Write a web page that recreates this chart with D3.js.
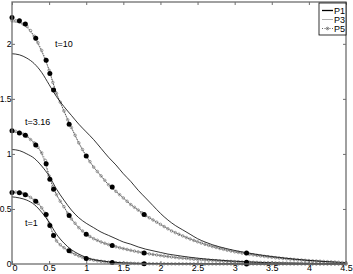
<!DOCTYPE html>
<html>
<head>
<meta charset="utf-8">
<script src="https://cdn.jsdelivr.net/npm/d3@7"></script>
<style>
  body { margin: 0; background: #fff; }
  text { font-family: "Liberation Sans", Arial, sans-serif; font-size: 9px; fill: #000; }
</style>
</head>
<body>
<svg id="drawing_region"></svg>
<script>
// coarse x grid (P1, P3 curves)
const xs = [0,0.1,0.2,0.3,0.4,0.5,0.6,0.7,0.8,0.9,1.0,1.1,1.2,1.3,1.4,1.5,1.6,1.7,1.8,1.9,2.0,2.1,2.2,2.3,2.4,2.5,2.6,2.7,2.8,2.9,3.0,3.1,3.2,3.3,3.4,3.5,3.6,3.7,3.8,3.9,4.0,4.1,4.2,4.3,4.4,4.5];
// fine x grid (P5 curves, one marker per point)
const xs5 = [0,0.05,0.1,0.15,0.2,0.25,0.3,0.35,0.4,0.45,0.5,0.55,0.6,0.65,0.7,0.75,0.8,0.85,0.9,0.95,
  1.0,1.05,1.1,1.15,1.2,1.25,1.3,1.35,1.4,1.45,1.5,1.55,1.6,1.65,1.7,1.75,1.8,1.85,1.9,1.95,
  2.0,2.05,2.1,2.15,2.2,2.25,2.3,2.35,2.4,2.45,2.5,2.55,2.6,2.65,2.7,2.75,2.8,2.85,2.9,2.95,
  3.0,3.05,3.1,3.15,3.2,3.25,3.3,3.35,3.4,3.45,3.5,3.55,3.6,3.65,3.7,3.75,3.8,3.85,3.9,3.95,
  4.0,4.05,4.1,4.15,4.2,4.25,4.3,4.35,4.4,4.45,4.5];

// t = 10
const p1_t10 = [1.91,1.90,1.87,1.82,1.74,1.63,1.52,1.43,1.35,1.27,1.20,1.13,1.05,0.97,0.90,0.82,0.75,0.67,0.60,0.53,0.46,0.40,0.35,0.31,0.27,0.23,0.20,0.175,0.155,0.138,0.123,0.11,0.098,0.087,0.077,0.068,0.06,0.052,0.045,0.039,0.033,0.028,0.023,0.019,0.015,0.012];
const p3_t10 = [2.20,2.19,2.15,2.06,1.93,1.76,1.55,1.39,1.24,1.10,0.98,0.88,0.80,0.72,0.66,0.60,0.54,0.49,0.44,0.40,0.36,0.32,0.285,0.255,0.227,0.202,0.179,0.159,0.141,0.125,0.111,0.099,0.088,0.078,0.069,0.061,0.054,0.047,0.041,0.036,0.031,0.027,0.023,0.019,0.015,0.012];
const p5_t10 = [2.21,2.21,2.20,2.18,2.16,2.12,2.07,2.01,1.94,1.86,
  1.76,1.65,1.55,1.47,1.39,1.31,1.24,1.17,1.10,1.04,
  0.98,0.93,0.88,0.84,0.80,0.76,0.72,0.69,0.66,0.63,
  0.60,0.57,0.54,0.515,0.49,0.465,0.44,0.42,0.40,0.38,
  0.36,0.34,0.32,0.30,0.285,0.27,0.255,0.24,0.227,0.214,
  0.202,0.19,0.179,0.169,0.159,0.15,0.141,0.133,0.125,0.118,
  0.111,0.105,0.099,0.093,0.088,0.083,0.078,0.073,0.069,0.065,
  0.061,0.057,0.054,0.05,0.047,0.044,0.041,0.038,0.036,0.033,
  0.031,0.029,0.027,0.025,0.023,0.021,0.019,0.017,0.015,0.013,0.012];

// t = 3.16
const p1_t3 = [1.04,1.03,1.00,0.96,0.89,0.80,0.68,0.58,0.49,0.42,0.37,0.33,0.29,0.26,0.23,0.20,0.18,0.155,0.135,0.12,0.105,0.09,0.08,0.07,0.061,0.053,0.046,0.04,0.035,0.03,0.026,0.022,0.019,0.016,0.013,0.011,0.009,0.008,0.007,0.006,0.005,0.004,0.004,0.003,0.003,0.002];
const p3_t3 = [1.20,1.19,1.16,1.10,1.00,0.80,0.63,0.52,0.41,0.33,0.27,0.23,0.20,0.177,0.157,0.14,0.124,0.11,0.098,0.087,0.077,0.068,0.06,0.053,0.047,0.041,0.036,0.032,0.028,0.024,0.021,0.018,0.016,0.014,0.012,0.01,0.009,0.008,0.007,0.006,0.005,0.0045,0.004,0.0035,0.003,0.0025];
const p5_t3 = [1.21,1.205,1.195,1.18,1.16,1.13,1.10,1.06,1.01,0.94,
  0.80,0.70,0.63,0.57,0.52,0.46,0.41,0.37,0.33,0.30,
  0.27,0.25,0.23,0.215,0.20,0.188,0.177,0.167,0.157,0.148,
  0.14,0.132,0.124,0.117,0.11,0.104,0.098,0.092,0.087,0.082,
  0.077,0.072,0.068,0.064,0.06,0.056,0.053,0.05,0.047,0.044,
  0.041,0.039,0.036,0.034,0.032,0.03,0.028,0.026,0.024,0.023,
  0.021,0.02,0.018,0.017,0.016,0.015,0.014,0.013,0.012,0.011,
  0.01,0.0095,0.009,0.0085,0.008,0.0075,0.007,0.0065,0.006,0.0055,
  0.005,0.005,0.0045,0.004,0.004,0.0035,0.003,0.003,0.003,0.0025,0.0025];

// t = 1
const p1_t1 = [0.61,0.60,0.58,0.54,0.47,0.38,0.27,0.19,0.13,0.09,0.06,0.04,0.03,0.02,0.015,0.01,0.008,0.006,0.005,0.004,0.003,0.003,0.002,0.002,0.002,0.001,0.001,0.001,0.001,0.001,0.001,0,0,0,0,0,0,0,0,0,0,0,0,0,0,0];
const p3_t1 = [0.65,0.645,0.625,0.58,0.51,0.37,0.21,0.148,0.105,0.073,0.05,0.035,0.024,0.017,0.012,0.008,0.006,0.004,0.003,0.002,0.002,0.001,0.001,0.001,0.001,0,0,0,0,0,0,0,0,0,0,0,0,0,0,0,0,0,0,0,0,0];
const p5_t1 = [0.655,0.653,0.648,0.64,0.625,0.605,0.58,0.55,0.51,0.46,
  0.37,0.27,0.21,0.175,0.148,0.125,0.105,0.088,0.073,0.06,
  0.05,0.042,0.035,0.029,0.024,0.02,0.017,0.014,0.012,0.01,
  0.008,0.007,0.006,0.005,0.004,0.0035,0.003,0.0025,0.002,0.002,
  0.0015,0.0015,0.001,0.001,0.001,0.001,0.0008,0.0007,0.0006,0.0005,
  0,0,0,0,0,0,0,0,0,0,
  0,0,0,0,0,0,0,0,0,0,
  0,0,0,0,0,0,0,0,0,0,
  0,0,0,0,0,0,0,0,0,0,0];

// reference points (filled dots)
const dot_x = [0,0.1,0.18,0.32,0.46,0.51,0.56,0.77,1.0,1.35,1.78,3.16];
const dot_t10 = [2.24,2.21,2.18,2.05,1.85,1.73,1.58,1.27,0.98,0.70,0.45,0.10];
const dot_t3 = [1.21,1.19,1.17,1.08,0.91,0.77,0.68,0.44,0.27,0.167,0.10,0.017];
const dot_t1 = [0.65,0.648,0.63,0.57,0.45,0.35,0.26,0.12,0.05,0.014,0.003,0];

const curve_labels = ["t=10","t=3.16","t=1"];
const legend_names = ["P1","P3","P5"];
const xticks = [0,0.5,1,1.5,2,2.5,3,3.5,4,4.5];
const yticks = [0,0.5,1,1.5,2];

const config = {
  width: 353, height: 274,
  margin: {top: 2, right: 7, bottom: 10, left: 12}
};

const svg = d3.select('#drawing_region')
  .attr('width', config.width)
  .attr('height', config.height);

const inner_width = config.width - config.margin.left - config.margin.right;
const inner_height = config.height - config.margin.top - config.margin.bottom;

const xscale = d3.scaleLinear().domain([0, 4.5]).range([0, inner_width]);
const yscale = d3.scaleLinear().domain([0, 2.38]).range([inner_height, 0]);

const chart = svg.append('g')
  .attr('transform', `translate(${config.margin.left}, ${config.margin.top})`);

const lineOn = grid => d3.line()
  .x((d, i) => xscale(grid[i]))
  .y(d => yscale(d))
  .curve(d3.curveMonotoneX);

const groups = [
  {p1: p1_t10, p3: p3_t10, p5: p5_t10, dots: dot_t10},
  {p1: p1_t3, p3: p3_t3, p5: p5_t3, dots: dot_t3},
  {p1: p1_t1, p3: p3_t1, p5: p5_t1, dots: dot_t1}
];

groups.forEach(g => {
  chart.append('path').datum(g.p3)
    .attr('fill', 'none').attr('stroke', '#9a9a9a').attr('stroke-width', 0.8)
    .attr('d', lineOn(xs));
  chart.append('path').datum(g.p5)
    .attr('fill', 'none').attr('stroke', '#000').attr('stroke-width', 0.6)
    .attr('stroke-dasharray', '1,1.5')
    .attr('d', lineOn(xs5));
  chart.append('g').selectAll('circle')
    .data(g.p5)
    .join('circle')
    .attr('cx', (d, i) => xscale(xs5[i]))
    .attr('cy', d => yscale(d))
    .attr('r', 1.3)
    .attr('fill', 'none')
    .attr('stroke', '#7a7a7a')
    .attr('stroke-width', 0.7);
  chart.append('path').datum(g.p1)
    .attr('fill', 'none').attr('stroke', '#000').attr('stroke-width', 0.8)
    .attr('d', lineOn(xs));
  chart.append('g').selectAll('circle')
    .data(g.dots)
    .join('circle')
    .attr('cx', (d, i) => xscale(dot_x[i]))
    .attr('cy', d => yscale(d))
    .attr('r', 2.5)
    .attr('fill', '#000');
});

// curve labels
const label_pos = [[0.58, 1.97], [0.176, 1.26], [0.176, 0.345]];
curve_labels.forEach((t, i) => {
  chart.append('text')
    .attr('x', xscale(label_pos[i][0]))
    .attr('y', yscale(label_pos[i][1]))
    .text(t);
});

// axes box
chart.append('rect')
  .attr('width', inner_width).attr('height', inner_height)
  .attr('fill', 'none').attr('stroke', '#6e6e6e').attr('stroke-width', 1.3);

const xaxis = d3.axisBottom(xscale).tickValues(xticks).tickSize(-3).tickPadding(1).tickFormat(d3.format('~g'));
const yaxis = d3.axisLeft(yscale).tickValues(yticks).tickSize(-3).tickPadding(0.5).tickFormat(d3.format('~g'));
const xaxis_top = d3.axisTop(xscale).tickValues(xticks).tickSize(-3).tickFormat('');
const yaxis_right = d3.axisRight(yscale).tickValues(yticks).tickSize(-3).tickFormat('');

const xg = chart.append('g').attr('transform', `translate(0, ${inner_height})`).call(xaxis);
const yg = chart.append('g').call(yaxis);
const xtg = chart.append('g').call(xaxis_top);
const yrg = chart.append('g').attr('transform', `translate(${inner_width}, 0)`).call(yaxis_right);
[xg, yg, xtg, yrg].forEach(g => {
  g.select('.domain').remove();
  g.selectAll('line').attr('stroke', '#6e6e6e');
  g.selectAll('text').attr('fill', '#000');
});
xg.selectAll('text').style('font-size', '9px');
yg.selectAll('text').style('font-size', '8.5px');
// first x label sits just right of the corner
xg.selectAll('text').filter(d => d === 0).attr('dx', 2.5);

// legend
const legend = chart.append('g').attr('transform', `translate(${inner_width - 27}, 1)`);
legend.append('rect')
  .attr('width', 27).attr('height', 32)
  .attr('fill', '#fff').attr('stroke', '#000').attr('stroke-width', 0.8);
legend_names.forEach((name, i) => {
  const y = 7.5 + i * 9;
  const l = legend.append('line')
    .attr('x1', 3).attr('x2', 14).attr('y1', y).attr('y2', y);
  if (i === 0) l.attr('stroke', '#000').attr('stroke-width', 1.3);
  if (i === 1) l.attr('stroke', '#9a9a9a').attr('stroke-width', 0.8);
  if (i === 2) {
    l.attr('stroke', '#000').attr('stroke-width', 0.6).attr('stroke-dasharray', '1,1.5');
    legend.append('circle').attr('cx', 8.5).attr('cy', y).attr('r', 1.3)
      .attr('fill', 'none').attr('stroke', '#555').attr('stroke-width', 0.7);
  }
  legend.append('text').attr('x', 15).attr('y', y + 3).text(name);
});
</script>
</body>
</html>
